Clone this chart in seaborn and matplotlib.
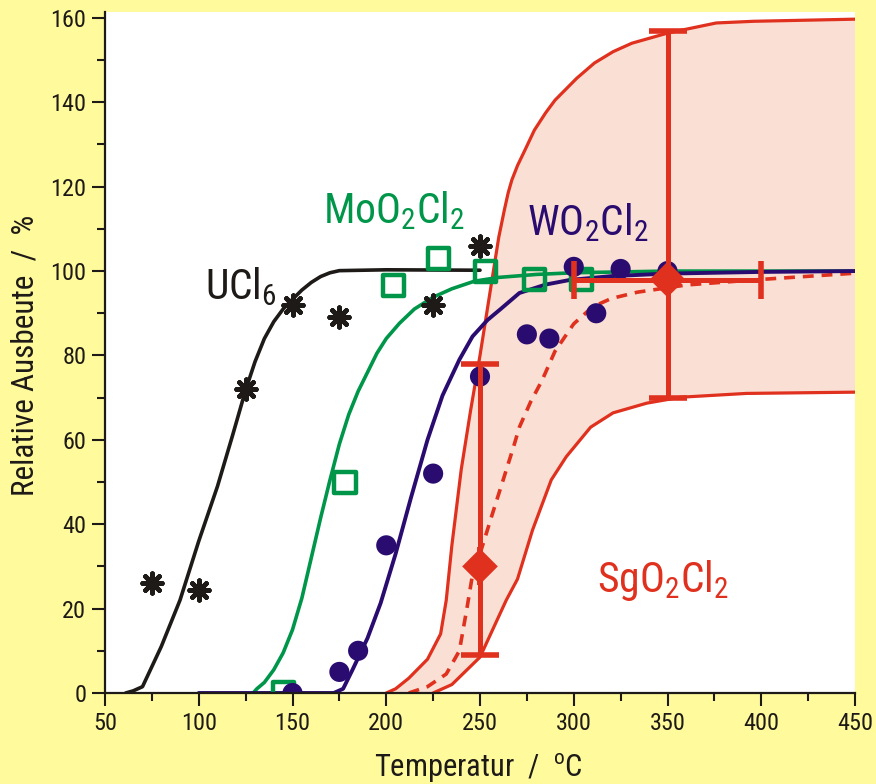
import os
import matplotlib
matplotlib.use("Agg")
import matplotlib.pyplot as plt
from matplotlib import font_manager as fm
import seaborn as sns
import numpy as np

# ---- measured yields (relative, %) vs. temperature (°C) ----
ucl6_T = [75, 100, 125, 150, 175, 225, 250]
ucl6_Y = [26, 24.5, 72, 92, 89, 92, 106]

moo2cl2_T = [145, 178, 204, 228, 253, 279, 304]
moo2cl2_Y = [0, 50, 96.5, 103, 100, 98, 98]

wo2cl2_T = [150, 175, 185, 200, 225, 250, 275, 287, 300, 312, 325, 350]
wo2cl2_Y = [0, 5, 10, 35, 52, 75, 85, 84, 101, 90, 100.5, 100]

# ---- model curves ----
ucl6_fit_T = [61, 65, 70, 80, 90, 100, 110, 118, 125, 130, 135, 140, 145, 150, 155, 160, 165, 170,
              175, 200, 250]
ucl6_fit_Y = [0, 0.5, 1.5, 11, 22, 36, 49, 61, 71.8, 78.5, 84, 88, 91, 93.3, 95.5, 97.3, 98.7,
              99.6, 100.1, 100.3, 100.2]

moo2cl2_fit_T = [129, 131, 135, 140, 145, 150, 155, 160, 165, 170, 175, 180, 185, 190, 195, 200,
                 207, 215, 225, 235, 247, 260, 280, 300, 350, 450]
moo2cl2_fit_Y = [0, 1, 2.5, 5.5, 9.5, 15, 22.5, 32, 41.5, 50.5, 59, 66, 71.5, 76, 80.5, 84,
                 87.6, 91, 93.8, 95.8, 97.6, 98.5, 99.2, 99.6, 100, 100]

wo2cl2_fit_T = [100, 172, 177, 182, 190, 197, 205, 213, 222, 230, 239, 246, 254, 261, 271, 285, 298,
                320, 350, 400, 450]
wo2cl2_fit_Y = [0, 0, 1, 5.5, 13, 21.3, 33, 46, 60, 70.5, 79, 84.5, 88.4, 91, 94.8, 96.8, 97.9,
                98.8, 99.4, 99.8, 100]

sg_fit_T = [212, 222, 232, 239, 243, 246, 250, 257, 262, 268, 271, 277, 283, 290, 300, 310, 320,
            334, 360, 396, 450]
sg_fit_Y = [0, 1.5, 4.5, 10, 20, 28, 33, 43, 50, 58.5, 63, 69, 74, 81, 87.5, 91.5, 93.5,
            95, 96.7, 97.9, 99.5]

sg_upper_T = [200, 205, 212, 222, 229, 232, 235, 240, 245, 250, 255, 260, 263, 265, 267, 270, 274,
              279, 285, 290, 301.6, 311, 321, 331, 350, 376, 396, 450]
sg_upper_Y = [0, 1, 3.5, 8, 14, 22, 35, 53, 67, 80, 94, 108, 114.5, 118.5, 121.6, 125, 128.7,
              133.4, 137.5, 140.5, 145.7, 149.3, 152, 154, 156.4, 158.8, 159.2, 159.7]

sg_lower_T = [225, 235, 250, 264, 270, 278, 288, 296, 309, 321, 339, 357, 392, 450]
sg_lower_Y = [0, 2, 8.5, 22, 27, 38.6, 50.5, 56, 63, 66.4, 68.7, 70.1, 71, 71.3]

# SgO2Cl2 single-atom results with uncertainties
sg_T = [250, 350]
sg_Y = [30, 98]
sg_Y_low = [9, 70]
sg_Y_high = [78, 157]
sg_T_err = [0, 50]

x_ticks = [50, 100, 150, 200, 250, 300, 350, 400, 450]
y_ticks = [0, 20, 40, 60, 80, 100, 120, 140, 160]

BLACK = "#1d1a17"
GREEN = "#00964a"
NAVY = "#2a0c70"
RED = "#e0301e"
SHADE = "#fae0d4"
PAPER = "#fffa9c"


def condensed_family():
    """Return the name of an installed narrow/condensed sans face, if any."""
    found = {}
    for f in fm.fontManager.ttflist:
        base = os.path.basename(f.fname).lower()
        if ("narrow" in base or "condensed" in base or "cond" in base) and f.style == "normal":
            if "bold" in base or "italic" in base or "oblique" in base or "light" in base:
                continue
            found.setdefault(base, f.name)
    for key in ("liberationsansnarrow", "robotocondensed", "opensans", "notosans", "dejavusans"):
        for base, name in found.items():
            if base.replace("-", "").replace("_", "").startswith(key):
                return name
    return next(iter(found.values()), "DejaVu Sans")


sns.set_theme(style="ticks")
FAMILY = condensed_family()
plt.rcParams["font.family"] = [FAMILY, "DejaVu Sans"]
plt.rcParams["font.stretch"] = "condensed"
plt.rcParams["mathtext.default"] = "regular"

fig = plt.figure(figsize=(8.76, 7.84), dpi=100, facecolor=PAPER)
ax = fig.add_axes([105 / 876, 91 / 784, 750 / 876, 681 / 784])
ax.set_facecolor("white")

# uncertainty band for SgO2Cl2
band_x = sg_upper_T + sg_lower_T[::-1]
band_y = sg_upper_Y + sg_lower_Y[::-1]
ax.fill(band_x, band_y, color=SHADE, lw=0, zorder=1)

lw = 2.3
sns.lineplot(x=sg_upper_T, y=sg_upper_Y, ax=ax, color=RED, lw=lw, sort=False, zorder=2)
sns.lineplot(x=sg_lower_T, y=sg_lower_Y, ax=ax, color=RED, lw=lw, sort=False, zorder=2)
sns.lineplot(x=sg_fit_T, y=sg_fit_Y, ax=ax, color=RED, lw=2.6, sort=False, zorder=2,
             linestyle=(0, (3, 2.2)))
sns.lineplot(x=ucl6_fit_T, y=ucl6_fit_Y, ax=ax, color=BLACK, lw=2.6, sort=False, zorder=3)
sns.lineplot(x=moo2cl2_fit_T, y=moo2cl2_fit_Y, ax=ax, color=GREEN, lw=2.6, sort=False, zorder=4)
sns.lineplot(x=wo2cl2_fit_T, y=wo2cl2_fit_Y, ax=ax, color=NAVY, lw=2.8, sort=False, zorder=5)

# measured points
sns.scatterplot(x=ucl6_T, y=ucl6_Y, ax=ax, marker=(8, 2, 0), s=200, color=BLACK,
                edgecolor=BLACK, linewidth=3.4, zorder=6)
sns.scatterplot(x=moo2cl2_T, y=moo2cl2_Y, ax=ax, marker="s", s=230, color=GREEN,
                facecolor="none", edgecolor=GREEN, linewidth=3.2, zorder=6)
sns.scatterplot(x=wo2cl2_T, y=wo2cl2_Y, ax=ax, marker="o", s=210, color=NAVY,
                edgecolor="none", linewidth=0, zorder=6)

# SgO2Cl2 error bars and data points
yerr = [np.subtract(sg_Y, sg_Y_low), np.subtract(sg_Y_high, sg_Y)]
ax.errorbar(sg_T, sg_Y, yerr=yerr, xerr=[sg_T_err, sg_T_err], fmt="none", ecolor=RED,
            elinewidth=3.6, capsize=13.5, capthick=4, zorder=7)
sns.scatterplot(x=sg_T, y=sg_Y, ax=ax, marker="D", s=330, color=RED, edgecolor="none",
                linewidth=0, zorder=8)

# compound labels
lab_kw = dict(ha="left", va="baseline", fontsize=30)
ax.text(103.3, 93.4, "UCl$_6$", color=BLACK, **lab_kw)
ax.text(166.3, 111.4, "MoO$_2$Cl$_2$", color=GREEN, **lab_kw)
ax.text(275, 108.5, "WO$_2$Cl$_2$", color=NAVY, **lab_kw)
ax.text(312.4, 23.9, "SgO$_2$Cl$_2$", color=RED, **lab_kw)

# axes styling
ax.set_xlim(50, 450)
ax.set_ylim(0, 161.4)
ax.set_xticks(x_ticks)
ax.set_yticks(y_ticks)
ax.set_xticks(np.arange(75, 450, 50), minor=True)
ax.set_yticks(np.arange(10, 161, 20), minor=True)
ax.tick_params(axis="both", which="major", direction="out", length=9.5, width=1.5,
               color=BLACK, labelsize=17.5, labelcolor=BLACK, pad=4)
ax.tick_params(axis="both", which="minor", direction="out", length=5.5, width=1.5, color=BLACK)
for s in ("top", "right"):
    ax.spines[s].set_visible(False)
for s in ("left", "bottom"):
    ax.spines[s].set_color(BLACK)
    ax.spines[s].set_linewidth(1.6)
    ax.spines[s].set_zorder(9)

ax.set_xlabel("Temperatur  /  $^{o}$C", fontsize=22, color=BLACK)
ax.set_ylabel("Relative Ausbeute  /  %", fontsize=22.5, color=BLACK)
ax.xaxis.set_label_coords(0.497, -0.1233)
ax.xaxis.label.set_va("baseline")
ax.yaxis.set_label_coords(-0.1067, 0.496)
ax.yaxis.label.set_va("center")

fig.savefig("out.png", dpi=100, facecolor=PAPER)
